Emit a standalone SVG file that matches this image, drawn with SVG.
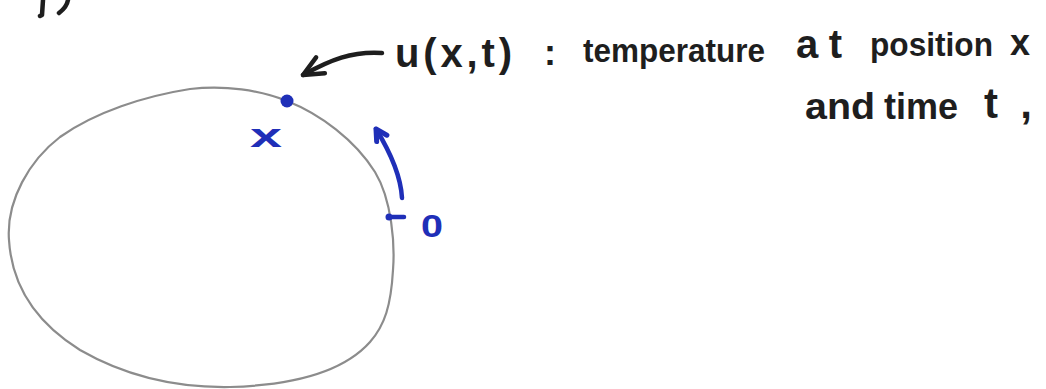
<svg xmlns="http://www.w3.org/2000/svg" width="1046" height="389" viewBox="0 0 1046 389">
  <style>
    .ink { fill: #1e1e1e; font-family: "Liberation Sans", "DejaVu Sans", sans-serif; font-weight: bold; }
    .blue { fill: #1f2fb8; font-family: "Liberation Sans", "DejaVu Sans", sans-serif; font-weight: bold; }
    .curve { fill: none; stroke: #8c8c8c; stroke-width: 2.2; }
    .blk { fill: none; stroke: #1e1e1e; stroke-width: 4.5; stroke-linecap: round; stroke-linejoin: round; }
    .bl { fill: none; stroke: #1f2fb8; stroke-width: 4.5; stroke-linecap: round; stroke-linejoin: round; }
  </style>
  <defs>
    <marker id="headBlack" markerUnits="userSpaceOnUse" viewBox="-25 -15 30 30" markerWidth="30" markerHeight="30" refX="0" refY="0" orient="auto" overflow="visible">
      <path d="M-20,-9 L0,0 L-20,9" fill="none" stroke="#1e1e1e" stroke-width="4.5" stroke-linecap="round" stroke-linejoin="round"/>
    </marker>
    <marker id="headBlue" markerUnits="userSpaceOnUse" viewBox="-15 -10 20 20" markerWidth="20" markerHeight="20" refX="0" refY="0" orient="auto" overflow="visible">
      <path d="M-11,-6 L0,0 L-11,6" fill="none" stroke="#1f2fb8" stroke-width="5" stroke-linecap="round" stroke-linejoin="round"/>
    </marker>
  </defs>
  <rect width="1046" height="389" fill="#ffffff"/>

  <!-- cut-off fragments at the top-left edge -->
  <g id="fragment">
    <path class="blk" d="M43,0 L42,15 L40,16"/>
    <path class="blk" d="M68,0 C67,6 63,10 59,13"/>
  </g>

  <!-- the closed curve (domain) -->
  <g id="domain">
    <path class="curve" d="M190,89 C225,85 260,90 287,101 C320,114 355,140 375,172 C392,200 395,245 393,270 C391,305 385,325 370,342 C345,370 300,385 230,387 C170,388 120,373 80,350 C40,325 12,290 9,240 C6,200 30,160 60,137 C95,112 145,96 190,89 Z"/>
  </g>

  <!-- point x on the curve -->
  <g id="point-x">
    <circle cx="287" cy="101" r="6.5" fill="#1f2fb8"/>
    <text class="blue" x="250" y="147" font-size="34" textLength="32" lengthAdjust="spacingAndGlyphs">x</text>
  </g>

  <!-- origin marker -->
  <g id="origin">
    <path class="bl" d="M389,217 L404,217" stroke-width="5"/>
    <circle cx="389" cy="217" r="3.5" fill="#1f2fb8"/>
    <text class="blue" x="421" y="237" font-size="31" textLength="22" lengthAdjust="spacingAndGlyphs">0</text>
  </g>

  <!-- label -->
  <g id="label" font-size="36">
    <text class="ink" x="395" y="67" font-size="40" textLength="117" lengthAdjust="spacing">u(x,t)</text>
    <text class="ink" x="544" y="65">:</text>
    <text class="ink" x="583" y="62" font-size="34" textLength="182" lengthAdjust="spacingAndGlyphs">temperature</text>
    <text class="ink" x="796" y="58" font-size="40" textLength="46" lengthAdjust="spacing">at</text>
    <text class="ink" x="870" y="56" font-size="34" textLength="123" lengthAdjust="spacingAndGlyphs">position</text>
    <text class="ink" x="1010" y="55">x</text>
    <text class="ink" x="805" y="119" textLength="70" lengthAdjust="spacingAndGlyphs">and</text>
    <text class="ink" x="884" y="119" textLength="74" lengthAdjust="spacingAndGlyphs">time</text>
    <text class="ink" x="984" y="118" font-size="42" textLength="48" lengthAdjust="spacing">t,</text>
  </g>

  <!-- connectors -->
  <g id="connectors">
    <path class="blk" d="M382,53 C352,51 330,60 303,75" marker-end="url(#headBlack)"/>
    <path class="bl" d="M402,198 C401,180 392,155 376,129" marker-end="url(#headBlue)"/>
  </g>
</svg>
